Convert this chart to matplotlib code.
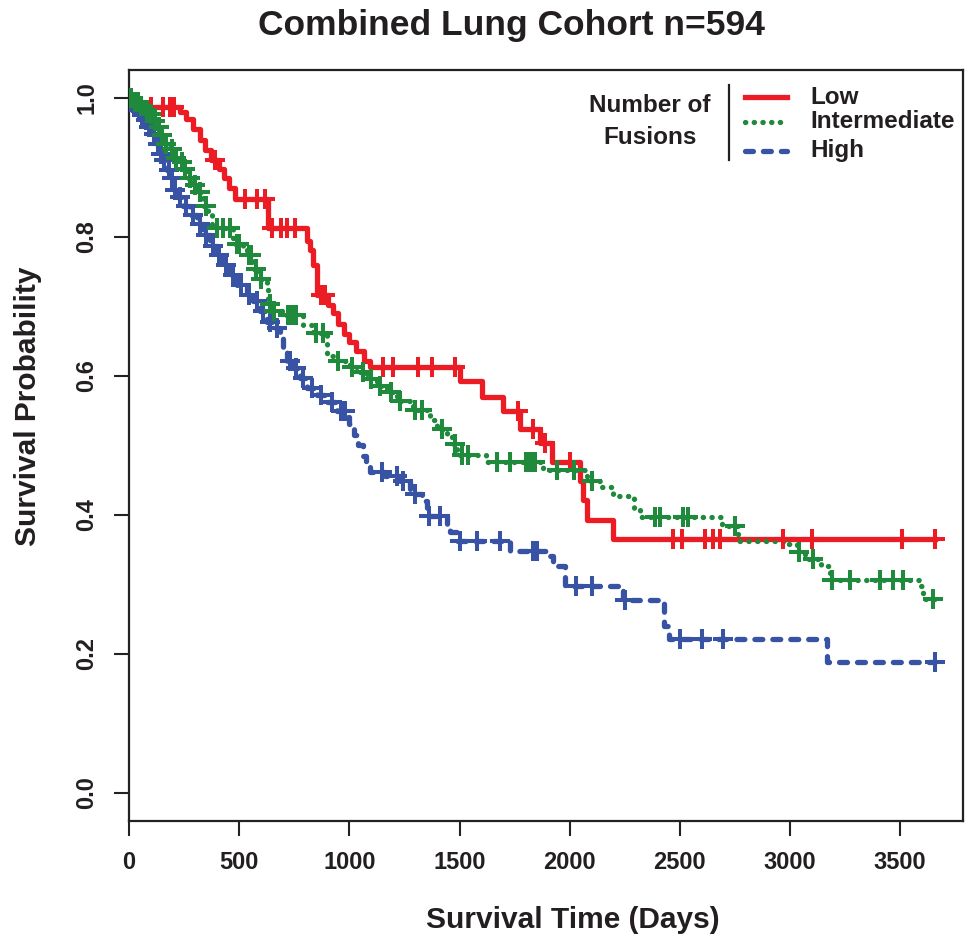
import numpy as np
import matplotlib
matplotlib.use("Agg")
import matplotlib.pyplot as plt
from matplotlib.lines import Line2D

# ---------------- data ----------------
groups = ["Low", "Intermediate", "High"]

low_time = [0, 30, 70, 231, 260, 290, 320, 345, 370, 410, 430, 455, 480, 631, 808, 821,
            835, 853, 905, 925, 950, 975, 1000, 1030, 1065, 1095, 1502, 1600, 1697, 1774,
            1865, 1919, 2046, 2060, 2078, 2196]
low_surv = [1.0, 0.993, 0.987, 0.980, 0.970, 0.955, 0.940, 0.925, 0.910, 0.897, 0.885,
            0.870, 0.854, 0.813, 0.794, 0.781, 0.760, 0.717, 0.702, 0.690, 0.675, 0.660,
            0.648, 0.636, 0.622, 0.613, 0.592, 0.570, 0.549, 0.524, 0.503, 0.476, 0.449,
            0.421, 0.392, 0.365]
low_censor = [100, 154, 185, 205, 390, 526, 581, 617, 650, 690, 717, 753, 870, 890, 1152,
              1198, 1311, 1375, 1479, 1765, 1833, 1887, 2001, 2468, 2509, 2613, 2650, 2681,
              2967, 3099, 3507, 3657]
low_end = 3660

int_time = [0, 15, 50, 70, 95, 110, 127, 141, 163, 186, 209, 231, 245, 263, 290, 309, 336,
            358, 377, 472, 517, 535, 563, 594, 626, 631, 653, 699, 789, 835, 898, 944, 1003,
            1048, 1080, 1125, 1171, 1216, 1289, 1366, 1397, 1443, 1465, 1488, 1620, 1878,
            2078, 2137, 2196, 2290, 2318, 2690, 2763, 2976, 3030, 3070, 3140, 3180, 3589,
            3602]
int_surv = [1.0, 0.994, 0.988, 0.982, 0.976, 0.967, 0.958, 0.946, 0.933, 0.926, 0.914,
            0.907, 0.897, 0.885, 0.875, 0.864, 0.845, 0.832, 0.813, 0.789, 0.781, 0.774,
            0.753, 0.740, 0.726, 0.704, 0.694, 0.687, 0.673, 0.661, 0.629, 0.622, 0.613,
            0.606, 0.596, 0.586, 0.577, 0.564, 0.551, 0.536, 0.524, 0.517, 0.502, 0.486,
            0.476, 0.464, 0.449, 0.440, 0.427, 0.408, 0.3965, 0.384, 0.363, 0.358, 0.346,
            0.336, 0.326, 0.307, 0.297, 0.2785]
int_censor = [10, 25, 40, 55, 80, 100, 120, 135, 150, 170, 195, 215, 240, 255, 275, 300,
              320, 350, 399, 426, 458, 490, 500, 545, 555, 575, 600, 640, 660, 720, 740,
              760, 850, 880, 950, 1010, 1060, 1100, 1140, 1190, 1230, 1300, 1330, 1420,
              1480, 1510, 1540, 1670, 1729, 1800, 1819, 1830, 1842, 1942, 2020, 2100, 2386,
              2409, 2514, 2536, 2749, 3040, 3103, 3190, 3271, 3407, 3466, 3512, 3648]
int_end = 3660

high_time = [0, 15, 36, 50, 64, 85, 109, 127, 141, 154, 172, 186, 200, 218, 245, 277, 309,
             336, 367, 399, 426, 458, 490, 535, 563, 594, 626, 653, 685, 699, 717, 744, 776,
             808, 853, 898, 944, 989, 1000, 1020, 1040, 1060, 1075, 1095, 1160, 1230, 1275,
             1329, 1352, 1443, 1456, 1488, 1729, 1910, 1924, 1978, 2241, 2427, 2450, 3167]
high_surv = [1.0, 0.993, 0.982, 0.975, 0.968, 0.958, 0.948, 0.933, 0.919, 0.910, 0.896,
             0.885, 0.867, 0.857, 0.845, 0.832, 0.818, 0.803, 0.787, 0.774, 0.760, 0.745,
             0.730, 0.716, 0.707, 0.693, 0.678, 0.669, 0.654, 0.636, 0.621, 0.611, 0.597,
             0.582, 0.572, 0.563, 0.549, 0.541, 0.530, 0.515, 0.500, 0.485, 0.470, 0.462,
             0.456, 0.449, 0.430, 0.420, 0.398, 0.384, 0.376, 0.362, 0.348, 0.341, 0.326,
             0.297, 0.278, 0.240, 0.2207, 0.189]
high_censor = [5, 20, 30, 45, 60, 75, 90, 100, 115, 130, 145, 160, 180, 195, 210, 230, 260,
               290, 320, 350, 380, 410, 440, 470, 510, 545, 580, 610, 640, 670, 730, 760,
               790, 830, 870, 920, 960, 980, 1150, 1216, 1243, 1300, 1360, 1411, 1500, 1579,
               1683, 1833, 1850, 2030, 2100, 2250, 2500, 2600, 2695, 3657]
high_end = 3660

x_ticks = [0, 500, 1000, 1500, 2000, 2500, 3000, 3500]
y_ticks = [0.0, 0.2, 0.4, 0.6, 0.8, 1.0]

# ---------------- styling ----------------
W, H = 966, 940
FONT = "Liberation Sans"
plt.rcParams["font.family"] = [FONT, "DejaVu Sans"]
plt.rcParams["font.weight"] = "bold"

RED = "#EC1C24"
GREEN = "#1F8A3C"
BLUE = "#3953A4"
LW = 3.8

fig = plt.figure(figsize=(W / 100, H / 100), dpi=100)
ax = fig.add_axes([129 / W, 1 - 820.7 / H, (963 - 129) / W, (820.7 - 70) / H])

def px(x, y):
    return x / W, 1 - y / H

styles = {
    "Low": dict(color=RED, linestyle="-"),
    "Intermediate": dict(color=GREEN, linestyle=(0, (0.05, 1.6)), dash_capstyle="round"),
    "High": dict(color=BLUE, linestyle=(0, (1.5, 1.9)), dash_capstyle="round"),
}

series = {
    "Low": (low_time, low_surv, low_censor, low_end),
    "Intermediate": (int_time, int_surv, int_censor, int_end),
    "High": (high_time, high_surv, high_censor, high_end),
}

for name in ["Low", "High", "Intermediate"]:
    t, s, cens, end = series[name]
    t = np.asarray(t, float)
    s = np.asarray(s, float)
    tt = np.append(t, end)
    ss = np.append(s, s[-1])
    st = styles[name]
    ax.step(tt, ss, where="post", lw=LW, zorder=3, **st)
    c = np.asarray(cens, float)
    idx = np.searchsorted(t, c, side="right") - 1
    ax.plot(c, s[idx], linestyle="none", marker="+", ms=15, mew=2.9,
            color=st["color"], zorder=4)

ax.set_xlim(0, 3785)
ax.set_ylim(-0.04, 1.04)
ax.set_xticks(x_ticks)
ax.set_xticklabels([str(v) for v in x_ticks])
ax.set_yticks(y_ticks)
ax.set_yticklabels([f"{v:.1f}" for v in y_ticks], rotation=90, va="center")
for lab in ax.get_xticklabels() + ax.get_yticklabels():
    lab.set_fontsize(17)
    lab.set_fontweight("bold")
    lab.set_color("#231F20")
ax.tick_params(axis="both", direction="out", length=11, width=1.5, color="#222222")
ax.tick_params(axis="x", pad=11)
ax.tick_params(axis="y", pad=11)
for sp in ax.spines.values():
    sp.set_linewidth(1.6)
    sp.set_color("#222222")

# titles and axis labels
fig.text(*px(512, 26), "Combined Lung Cohort n=594", ha="center", va="center",
         fontsize=25.5, fontweight="bold", color="#231F20")
fig.text(*px(573, 920), "Survival Time (Days)", ha="center", va="center",
         fontsize=21.5, fontweight="bold", color="#231F20")
fig.text(*px(28, 406), "Survival Probability", ha="center", va="center", rotation=90,
         fontsize=21.5, fontweight="bold", color="#231F20")

# legend (drawn manually like the R legend)
fig.text(*px(650, 106), "Number of", ha="center", va="center", fontsize=17.5,
         fontweight="bold", color="#231F20")
fig.text(*px(650, 137), "Fusions", ha="center", va="center", fontsize=17.5,
         fontweight="bold", color="#231F20")
x0, y0 = px(729, 85)
x1, y1 = px(729, 160)
fig.add_artist(Line2D([x0, x1], [y0, y1], transform=fig.transFigure, color="#231F20", lw=1.6))
leg_y = [97, 122, 151]
for name, yy in zip(groups, leg_y):
    a, b = px(745, yy)
    c, d = px(787, yy)
    st = styles[name]
    fig.add_artist(Line2D([a, c], [b, d], transform=fig.transFigure, lw=LW, **st))
    fig.text(*px(810, yy), name, ha="left", va="center", fontsize=17.5,
             fontweight="bold", color="#231F20")

fig.savefig("out.png", dpi=100)
